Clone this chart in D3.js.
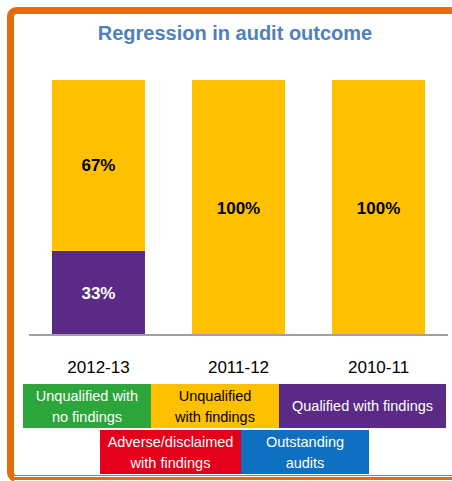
<!DOCTYPE html>
<html><head><meta charset="utf-8">
<script src="https://cdn.jsdelivr.net/npm/d3@7"></script>
<style>html,body{margin:0;padding:0;background:#fff;}svg{display:block;}</style>
</head><body>
<svg id="chart" width="452" height="481"></svg>
<script>
const categories = ["2012-13", "2011-12", "2010-11"];
const qualifiedWithFindings = [33, 0, 0];
const unqualifiedWithFindings = [67, 100, 100];
const legendRow1 = ["Unqualified with\nno findings", "Unqualified\nwith findings", "Qualified with findings"];
const legendRow2 = ["Adverse/disclaimed\nwith findings", "Outstanding\naudits"];

const svg = d3.select("#chart");
const font = "Liberation Sans, Arial, sans-serif";

// frame
svg.append("rect").attr("x", 10.5).attr("y", 10.5).attr("width", 460).attr("height", 468)
  .attr("rx", 6).attr("fill", "#fff").attr("stroke", "#E46C0A").attr("stroke-width", 7);
svg.append("rect").attr("x", 14).attr("y", 476).attr("width", 438).attr("height", 5).attr("fill", "#fff");
svg.append("rect").attr("x", 14).attr("y", 477).attr("width", 438).attr("height", 3).attr("fill", "#E46C0A");

svg.append("text").attr("x", 235).attr("y", 40).attr("text-anchor", "middle")
  .attr("font-family", font).attr("font-weight", "bold").attr("font-size", 20)
  .attr("fill", "#4F81BD").text("Regression in audit outcome");

const x = d3.scaleBand().domain(categories).range([29, 448]).paddingInner(0.336).paddingOuter(0.164);
const y = d3.scaleLinear().domain([0, 100]).range([335, 80]);

const series = [
  {values: qualifiedWithFindings, color: "#5A2A86", text: "#fff"},
  {values: unqualifiedWithFindings, color: "#FFC000", text: "#000"}
];
const stacked = d3.stack().keys([0, 1]).value((d, k) => series[k].values[d])(categories.map((c, i) => i));

stacked.forEach((layer, k) => {
  layer.forEach((d, i) => {
    const v = series[k].values[i];
    if (!v) return;
    svg.append("rect").attr("x", x(categories[i])).attr("width", x.bandwidth())
      .attr("y", y(d[1])).attr("height", y(d[0]) - y(d[1])).attr("fill", series[k].color);
    svg.append("text").attr("x", x(categories[i]) + x.bandwidth() / 2)
      .attr("y", (y(d[0]) + y(d[1])) / 2 + 6).attr("text-anchor", "middle")
      .attr("font-family", font).attr("font-weight", "bold").attr("font-size", 17)
      .attr("fill", series[k].text).text(v + "%");
  });
});

const axis = svg.append("g").attr("transform", "translate(0,335)")
  .call(d3.axisBottom(x).tickSize(0).tickPadding(26));
axis.select(".domain").attr("stroke", "#A0A0A0").attr("stroke-width", 2).attr("d", "M29,0H448");
axis.selectAll("text").attr("font-family", font).attr("font-size", 17).attr("fill", "#000");

function legendBox(xp, yp, w, h, color, txtColor, label) {
  svg.append("rect").attr("x", xp).attr("y", yp).attr("width", w).attr("height", h).attr("fill", color);
  const lines = label.split("\n");
  const t = svg.append("text").attr("text-anchor", "middle").attr("font-family", font)
    .attr("font-size", 14.5).attr("fill", txtColor);
  const lh = 21;
  const y0 = yp + h / 2 - (lines.length - 1) * lh / 2 + 5;
  lines.forEach((l, i) => t.append("tspan").attr("x", xp + w / 2).attr("y", y0 + i * lh).text(l));
}
legendBox(23, 384, 128, 44, "#2CA53A", "#fff", legendRow1[0]);
legendBox(151, 384, 128, 44, "#FFC000", "#000", legendRow1[1]);
legendBox(279, 384, 167, 44, "#5A2A86", "#fff", legendRow1[2]);
legendBox(100, 430, 141, 44, "#E2001A", "#fff", legendRow2[0]);
legendBox(241, 430, 128, 44, "#0E70C0", "#fff", legendRow2[1]);
</script>
</body></html>
